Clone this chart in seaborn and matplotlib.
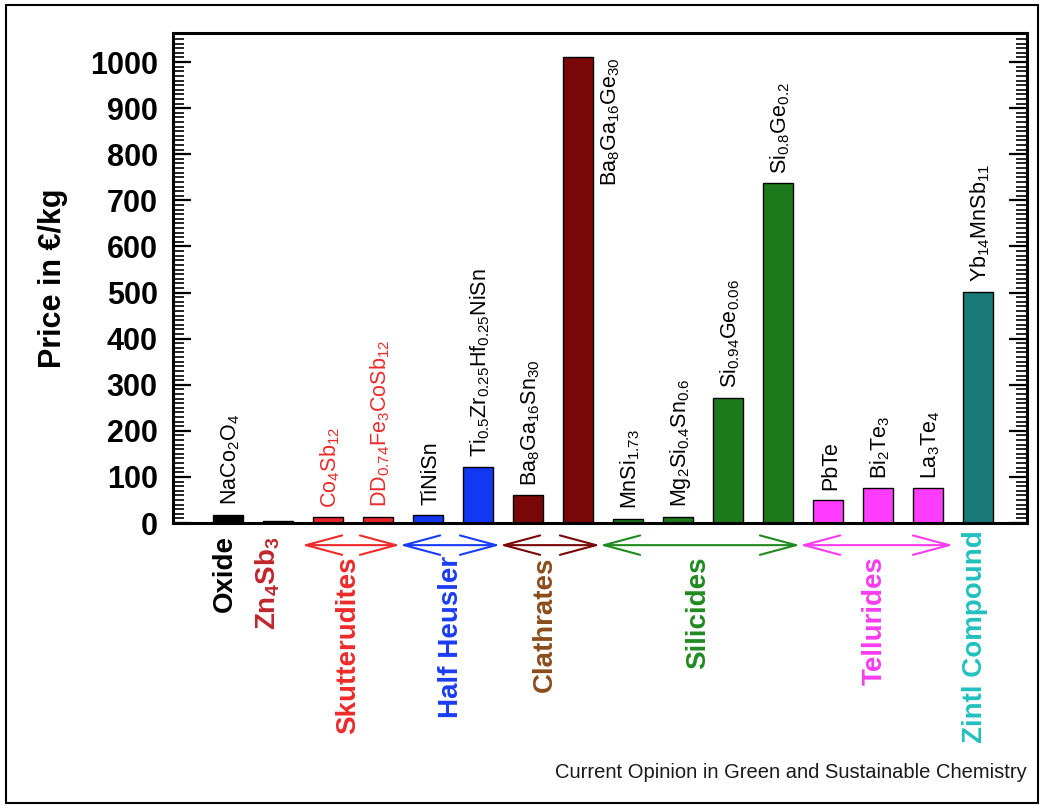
import numpy as np
import pandas as pd
import matplotlib.pyplot as plt
import seaborn as sns
from matplotlib.ticker import MultipleLocator
from matplotlib.patches import Rectangle

# ---- data ----
keys = ['NaCo2O4', 'Zn4Sb3', 'Co4Sb12', 'DDFe3CoSb12', 'TiNiSn', 'TiZrHfNiSn',
        'Ba8Ga16Sn30', 'Ba8Ga16Ge30', 'MnSi1.73', 'Mg2Si0.4Sn0.6', 'Si0.94Ge0.06',
        'Si0.8Ge0.2', 'PbTe', 'Bi2Te3', 'La3Te4', 'Yb14MnSb11']
labels = [r'$\mathregular{NaCo_2O_4}$', '', r'$\mathregular{Co_4Sb_{12}}$',
          r'$\mathregular{DD_{0.74}Fe_3CoSb_{12}}$', 'TiNiSn',
          r'$\mathregular{Ti_{0.5}Zr_{0.25}Hf_{0.25}NiSn}$',
          r'$\mathregular{Ba_8Ga_{16}Sn_{30}}$', r'$\mathregular{Ba_8Ga_{16}Ge_{30}}$',
          r'$\mathregular{MnSi_{1.73}}$', r'$\mathregular{Mg_2Si_{0.4}Sn_{0.6}}$',
          r'$\mathregular{Si_{0.94}Ge_{0.06}}$', r'$\mathregular{Si_{0.8}Ge_{0.2}}$',
          'PbTe', r'$\mathregular{Bi_2Te_3}$', r'$\mathregular{La_3Te_4}$',
          r'$\mathregular{Yb_{14}MnSb_{11}}$']
prices = [18, 5, 12, 14, 18, 122, 60, 1010, 9, 14, 271, 737, 51, 75, 75, 501]
bar_colors = ['#000000', '#76664a', '#e8222a', '#e8222a', '#1238f2', '#1238f2',
              '#7a0808', '#7a0808', '#1c7a1c', '#1c7a1c', '#1c7a1c', '#1c7a1c',
              '#ff3cff', '#ff3cff', '#ff3cff', '#1a7a7a']
label_colors = ['black', 'black', '#ee2a2a', '#ee2a2a'] + ['black'] * 12

groups = ['Oxide', r'$\mathregular{Zn_4Sb_3}$', 'Skutterudites', 'Half Heusler',
          'Clathrates', 'Silicides', 'Tellurides', 'Zintl Compound']
group_colors = ['black', '#c0262e', '#ee2a2a', '#1a3cf5', '#8c4c1c', '#208a20',
                '#f83cf0', '#22c0c0']
group_x = [-0.06, 0.8, 2.4, 4.46, 6.34, 9.4, 12.94, 14.94]
group_top = [-26, -30, -72, -72, -72, -72, -72, -15]

arrow_spans = [(1.48, 3.44), (3.44, 5.44), (5.44, 7.44), (7.44, 11.44), (11.44, 14.5)]
arrow_colors = ['#ee2a2a', '#1a3cf5', '#7a0808', '#208a20', '#f83cf0']

df = pd.DataFrame({'material': keys, 'price': prices})

sns.set_style('white')
plt.rcParams['font.family'] = ['Liberation Sans', 'DejaVu Sans']
plt.rcParams['mathtext.fontset'] = 'custom'
plt.rcParams['mathtext.rm'] = 'Liberation Sans'
plt.rcParams['text.color'] = 'black'
plt.rcParams['axes.labelcolor'] = 'black'
plt.rcParams['ytick.color'] = 'black'

fig = plt.figure(figsize=(10.43, 8.06), dpi=100)
ax = fig.add_axes([0.1659, 0.3511, 0.8188, 0.6079])

sns.barplot(data=df, x='material', y='price', hue='material', palette=bar_colors,
            legend=False, width=0.6, saturation=1, edgecolor='black', linewidth=1, ax=ax)

ax.set_xlim(-1.1, 15.98)
ax.set_ylim(0, 1063)
ax.set_xticks([])
ax.set_xlabel('')

# y axis ticks on both sides, inward
ax.yaxis.set_major_locator(MultipleLocator(100))
ax.yaxis.set_minor_locator(MultipleLocator(10))
ax.tick_params(axis='y', which='major', direction='in', length=13, width=1.6,
               left=True, right=True, labelsize=22, pad=11, colors='black')
ax.tick_params(axis='y', which='minor', direction='in', length=8, width=1.2,
               left=True, right=True, colors='black')
for lab in ax.get_yticklabels():
    lab.set_fontweight('bold')
for s in ax.spines.values():
    s.set_linewidth(2.2)
    s.set_color('black')

ax.set_ylabel('Price in €/kg', fontsize=22, fontweight='bold', labelpad=16, color='black')

# labels on the bars
for i, (lab, val, col) in enumerate(zip(labels, prices, label_colors)):
    if not lab:
        continue
    if i == 7:
        ax.text(i + 0.66, val, lab, rotation=90, ha='center', va='top',
                fontsize=15.5, color=col)
    else:
        ax.annotate(lab, (i + 0.05, val), xytext=(0, 7), textcoords='offset points',
                    rotation=90, ha='center', va='bottom', fontsize=15.5, color=col)

# group arrows and names below the axis
for (x0, x1), col in zip(arrow_spans, arrow_colors):
    ax.annotate('', xy=(x1, -48), xytext=(x0, -48), annotation_clip=False,
                arrowprops=dict(arrowstyle='<->,head_length=2.6,head_width=0.7',
                                color=col, lw=1.5, shrinkA=0, shrinkB=0))
for name, x, top, col in zip(groups, group_x, group_top, group_colors):
    ax.text(x, top, name, rotation=90, ha='center', va='top', fontsize=20,
            fontweight='bold', color=col, clip_on=False)

fig.text(0.9847, 0.042, 'Current Opinion in Green and Sustainable Chemistry',
         ha='right', va='center', fontsize=14.5, color='#1a1a1a')
fig.patches.append(Rectangle((0.006, 0.004), 0.989, 0.99, transform=fig.transFigure,
                             fill=False, edgecolor='black', linewidth=1.5))

fig.savefig('out.png', dpi=100)
